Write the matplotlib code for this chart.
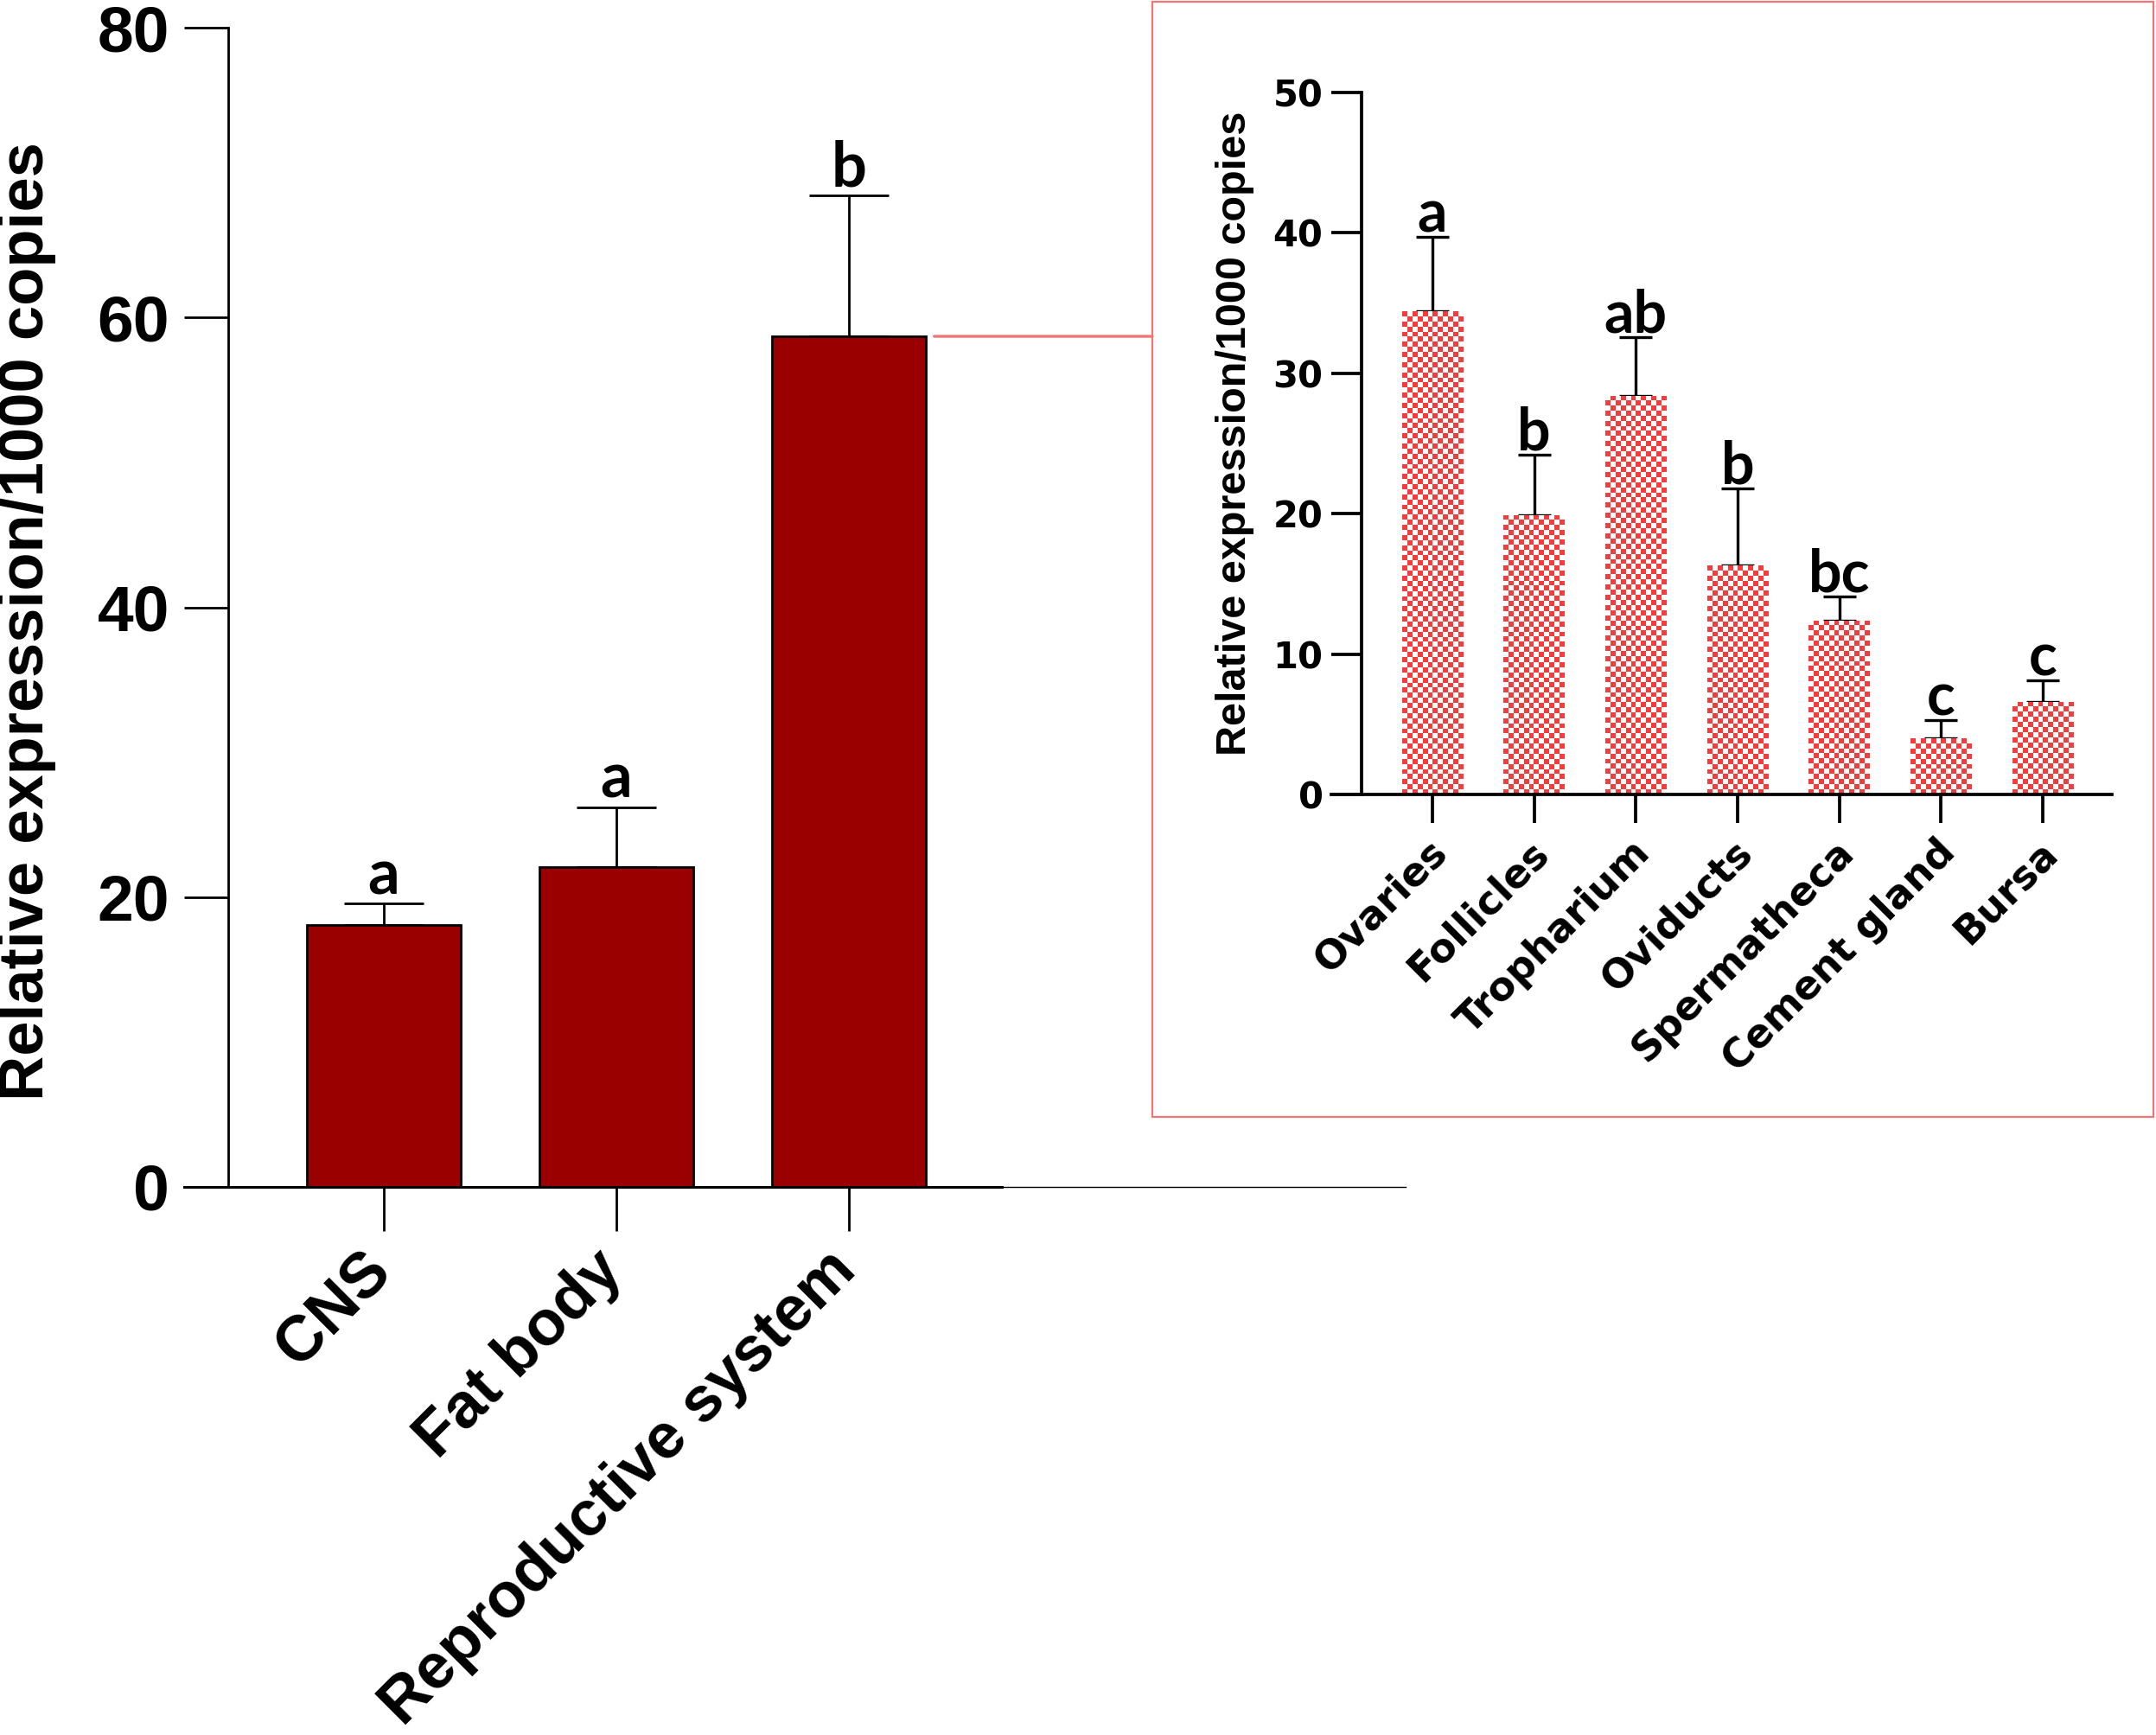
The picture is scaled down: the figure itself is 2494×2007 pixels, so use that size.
import matplotlib
matplotlib.use('Agg')
import matplotlib.pyplot as plt
import matplotlib.transforms as mtransforms
from matplotlib.patches import Rectangle, ConnectionPatch
from matplotlib.colors import ListedColormap
import numpy as np

plt.rcParams['font.family'] = ['Liberation Sans', 'DejaVu Sans']
plt.rcParams['font.weight'] = 'bold'
plt.rcParams['axes.labelweight'] = 'bold'

# main panel: tissues
tissues = ['CNS', 'Fat body', 'Reproductive system']
tissue_mean = [18.1, 22.1, 58.7]
tissue_sd = [1.45, 4.1, 9.7]
tissue_letters = ['a', 'a', 'b']

# inset: parts of the reproductive system
parts = ['Ovaries', 'Follicles', 'Tropharium', 'Oviducts', 'Spermatheca',
         'Cement gland', 'Bursa']
part_mean = [34.4, 19.9, 28.4, 16.3, 12.4, 4.0, 6.6]
part_sd = [5.3, 4.3, 4.2, 5.5, 1.7, 1.3, 1.5]
part_letters = ['a', 'b', 'ab', 'b', 'bc', 'c', 'c']

ylab = 'Relative expression/1000 copies'

W, H = 2494, 2007
fig = plt.figure(figsize=(W / 100, H / 100), dpi=100)

# %% main panel
ax = fig.add_axes([264 / W, 1 - 1373 / H, (1159 - 264) / W, (1373 - 32) / H])
x = np.arange(len(tissues))
ax.bar(x, tissue_mean, width=0.66, color='#9b0000', edgecolor='black',
       linewidth=2, zorder=2)
ax.errorbar(x, tissue_mean, yerr=[np.zeros(len(x)), tissue_sd], fmt='none',
            ecolor='black', elinewidth=2, capsize=33, capthick=2, zorder=1)
for xi, m, s, let in zip(x, tissue_mean, tissue_sd, tissue_letters):
    ax.annotate(let, (xi, m + s), xytext=(0, 8), textcoords='offset points',
                ha='center', va='baseline', fontsize=52, family='Lato',
                fontweight='bold')

ax.set_xlim(-0.669, 2.658)
ax.set_ylim(0, 80)
ax.set_yticks([0, 20, 40, 60, 80])
ax.set_xticks(x, tissues, rotation=45, ha='right', rotation_mode='anchor')
ax.tick_params(axis='y', length=37, width=2, pad=12, labelsize=54)
ax.tick_params(axis='x', length=37, width=2, pad=10, labelsize=53)
shift = mtransforms.ScaledTranslation(-20 / 72, 3 / 72, fig.dpi_scale_trans)
for lab in ax.get_xticklabels():
    lab.set_transform(lab.get_transform() + shift)
for side in ['top', 'right', 'bottom']:
    ax.spines[side].set_visible(False)
ax.spines['left'].set_linewidth(2)
tr = ax.get_yaxis_transform()
ax.plot([-0.057, 1.0], [0, 0], color='black', lw=2.2, transform=tr,
        clip_on=False, zorder=3)
ax.plot([1.0, 1.522], [0, 0], color='black', lw=1, transform=tr,
        clip_on=False, zorder=3)
ax.set_ylabel(ylab, fontsize=52)
ax.yaxis.set_label_coords(-0.2225, 0.488)

# %% inset panel
ax2 = fig.add_axes([1575 / W, 1 - 919 / H, (2443 - 1575) / W, (919 - 107) / H])
xi2 = np.arange(len(parts))
bars = ax2.bar(xi2, part_mean, width=0.6, color='white', linewidth=0, zorder=2)
ax2.set_xlim(-0.697, 6.68)
ax2.set_ylim(0, 50)

checker = ListedColormap(['#f43c3c', 'white'])
for b in bars:
    x0, w, h = b.get_x(), b.get_width(), b.get_height()
    p0 = ax2.transData.transform((x0, 0))
    p1 = ax2.transData.transform((x0 + w, h))
    nx = 12
    sq = (p1[0] - p0[0]) / nx
    ny = max(1, int(round((p1[1] - p0[1]) / sq)))
    grid = np.add.outer(np.arange(ny), np.arange(nx)) % 2
    im = ax2.imshow(grid, cmap=checker, extent=(x0, x0 + w, 0, h),
                    origin='lower', aspect='auto', interpolation='nearest',
                    zorder=2.5)
    im.set_clip_path(b)
ax2.set_xlim(-0.697, 6.68)
ax2.set_ylim(0, 50)

ax2.errorbar(xi2, part_mean, yerr=[np.zeros(len(xi2)), part_sd], fmt='none',
             ecolor='black', elinewidth=2.4, capsize=14, capthick=2.4, zorder=1)
for xx, m, s, let in zip(xi2, part_mean, part_sd, part_letters):
    ax2.annotate(let, (xx, m + s), xytext=(0, 4), textcoords='offset points',
                 ha='center', va='baseline', fontsize=49, family='Lato',
                 fontweight='bold')

ax2.set_yticks([0, 10, 20, 30, 40, 50])
ax2.set_xticks(xi2, parts, rotation=45, ha='right', rotation_mode='anchor')
ax2.tick_params(axis='y', length=25, width=2.7, pad=7, labelsize=30)
ax2.tick_params(axis='x', length=24, width=2.7, pad=8, labelsize=33)
shift2 = mtransforms.ScaledTranslation(-4 / 72, 0, fig.dpi_scale_trans)
for lab in ax2.get_xticklabels():
    lab.set_transform(lab.get_transform() + shift2)
for lab in ax2.get_xticklabels() + ax2.get_yticklabels():
    lab.set_family('DejaVu Sans')
for side in ['top', 'right', 'bottom']:
    ax2.spines[side].set_visible(False)
ax2.spines['left'].set_linewidth(2.7)
tr2 = ax2.get_yaxis_transform()
ax2.plot([-0.040, 1.0], [0, 0], color='black', lw=2.7, transform=tr2,
         clip_on=False, zorder=3)
ax2.set_ylabel(ylab, fontsize=35)
ax2.yaxis.set_label_coords(-0.143, 0.515)

# inset frame and connector
box_left = 1333 / W
fig.add_artist(Rectangle((box_left, 1 - 1292 / H), (2491 - 1333) / W,
                         (1292 - 2) / H, transform=fig.transFigure,
                         fill=False, edgecolor='#f07575', linewidth=1.6))
blend = mtransforms.blended_transform_factory(fig.transFigure, ax.transData)
con = ConnectionPatch(xyA=(2 + 0.33 + 0.037, tissue_mean[2]), coordsA=ax.transData,
                      xyB=(box_left, tissue_mean[2]), coordsB=blend,
                      color='#f07575', linewidth=2.4)
fig.add_artist(con)

fig.savefig('out.png', dpi=100)
